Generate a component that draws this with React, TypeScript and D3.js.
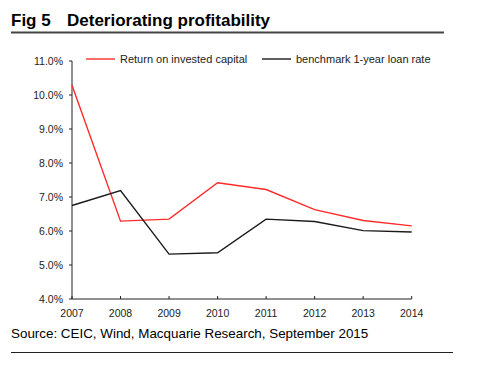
import React from 'react';
import * as d3 from 'd3';

const years = ['2007', '2008', '2009', '2010', '2011', '2012', '2013', '2014'];
const roic = [10.29, 6.29, 6.35, 7.42, 7.22, 6.63, 6.31, 6.15];
const loanRate = [6.75, 7.19, 5.32, 5.36, 6.35, 6.28, 6.01, 5.97];
const yTicks = [4, 5, 6, 7, 8, 9, 10, 11];

const seriesNames = ['Return on invested capital', 'benchmark 1-year loan rate'];
const seriesColors = ['#ff2a2a', '#1a1a1a'];

const font = '"Liberation Sans", Arial, Helvetica, sans-serif';

const App: React.FC = () => {
  const width = 484;
  const height = 372;
  const left = 72;
  const right = 411.7;
  const top = 61;
  const bottom = 299;

  const x = d3.scalePoint<string>().domain(years).range([left, right]);
  const y = d3.scaleLinear().domain([4, 11]).range([bottom, top]);

  const line = d3
    .line<number>()
    .x((_, i) => x(years[i]) as number)
    .y(d => y(d));

  const series = [roic, loanRate];

  return (
    <svg
      width={width}
      height={height}
      style={{ position: 'absolute', left: 0, top: 0, background: '#fff' }}
      fontFamily={font}
    >
      {/* title */}
      <text x={11} y={26} fontSize={17} fontWeight="bold" fill="#000">
        Fig 5
      </text>
      <text x={67} y={26} fontSize={17} fontWeight="bold" fill="#000">
        Deteriorating profitability
      </text>
      <line x1={11} x2={444} y1={32.5} y2={32.5} stroke="#444" strokeWidth={2} />

      {/* y axis */}
      <line x1={left} x2={left} y1={top} y2={bottom} stroke="#222" strokeWidth={1} />
      {yTicks.map(t => (
        <g key={t}>
          <line x1={left - 3} x2={left} y1={y(t)} y2={y(t)} stroke="#222" />
          <text
            x={63}
            y={y(t)}
            dy="0.35em"
            textAnchor="end"
            fontSize={10.5}
            fill="#222"
          >
            {t.toFixed(1)}%
          </text>
        </g>
      ))}

      {/* x axis */}
      <line x1={left} x2={right} y1={bottom} y2={bottom} stroke="#222" strokeWidth={1} />
      {years.map(yr => (
        <g key={yr}>
          <line
            x1={x(yr)}
            x2={x(yr)}
            y1={bottom}
            y2={bottom - 3}
            stroke="#222"
          />
          <text
            x={x(yr)}
            y={316.5}
            textAnchor="middle"
            fontSize={10.5}
            fill="#222"
          >
            {yr}
          </text>
        </g>
      ))}

      {/* series */}
      {series.map((s, i) => (
        <path
          key={seriesNames[i]}
          d={line(s) || ''}
          fill="none"
          stroke={seriesColors[i]}
          strokeWidth={1.4}
        />
      ))}

      {/* legend */}
      <line x1={86} x2={115} y1={59} y2={59} stroke={seriesColors[0]} strokeWidth={1.4} />
      <text x={120} y={59} dy="0.35em" fontSize={11} fill="#222">
        {seriesNames[0]}
      </text>
      <line x1={262} x2={291} y1={59} y2={59} stroke={seriesColors[1]} strokeWidth={1.4} />
      <text x={296} y={59} dy="0.35em" fontSize={11} fill="#222">
        {seriesNames[1]}
      </text>

      {/* source */}
      <text x={11} y={338} fontSize={13.4} fill="#000">
        Source: CEIC, Wind, Macquarie Research, September 2015
      </text>
      <line x1={11} x2={453} y1={352.5} y2={352.5} stroke="#222" strokeWidth={1} />
    </svg>
  );
};

export default App;
